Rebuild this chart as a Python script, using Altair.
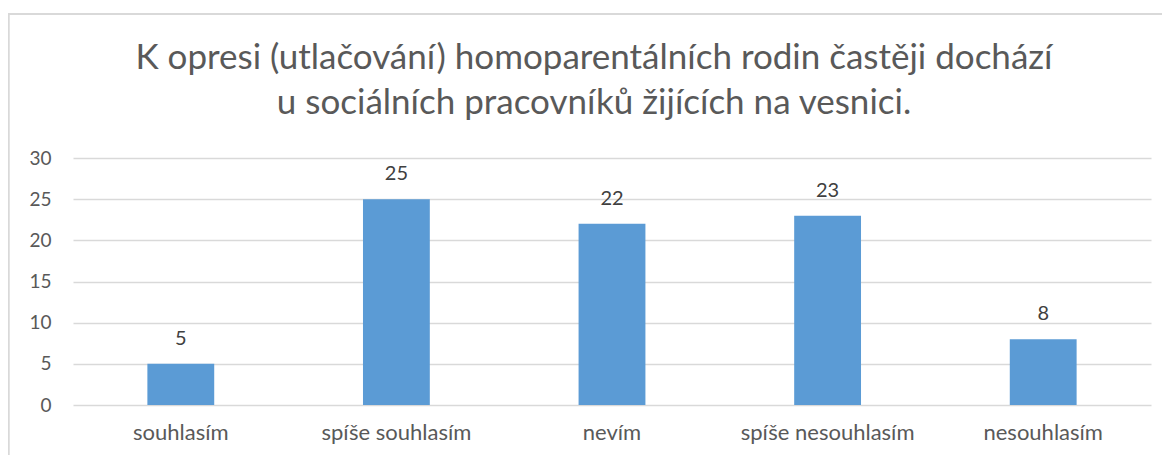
import altair as alt
import pandas as pd

categories = ["souhlasím", "spíše souhlasím", "nevím", "spíše nesouhlasím", "nesouhlasím"]
values = [5, 25, 22, 23, 8]
title_lines = ["K opresi (utlačování) homoparentálních rodin častěji dochází",
               "u sociálních pracovníků žijících na vesnici."]

df = pd.DataFrame({"kategorie": categories, "pocet": values})

FONT = "Lato"
GREY = "#595959"

x = alt.X("kategorie:N", sort=categories,
          scale=alt.Scale(paddingInner=0.69, paddingOuter=0.345),
          axis=alt.Axis(title=None, labelAngle=0, labelFontSize=22, labelColor=GREY,
                        labelFont=FONT, ticks=False, domain=False, labelPadding=17))
y = alt.Y("pocet:Q", scale=alt.Scale(domain=[0, 30]),
          axis=alt.Axis(title=None, values=[0, 5, 10, 15, 20, 25, 30], labelFontSize=19,
                        labelColor=GREY, labelFont=FONT, ticks=False, domain=False,
                        labelPadding=22, gridColor="#D9D9D9", gridWidth=1.5))

bars = alt.Chart(df).mark_bar(color="#5B9BD5").encode(x=x, y=y)
labels = alt.Chart(df).mark_text(dy=-19, baseline="alphabetic", fontSize=20, font=FONT,
                                 color="#404040").encode(
    x=alt.X("kategorie:N", sort=categories), y="pocet:Q", text="pocet:Q")

border = alt.Chart(df).mark_rect(fill=None, stroke="#D9D9D9", strokeWidth=1.5, clip=False).encode(
    x=alt.value(-64.5), x2=alt.value(1120), y=alt.value(-144), y2=alt.value(400))

chart = alt.layer(border, bars, labels).properties(
    width=1078, height=247,
    title=alt.TitleParams(title_lines, fontSize=35, font=FONT, color=GREY, fontWeight="normal",
                          anchor="middle", frame="group", dx=-18, offset=-108, lineHeight=45),
    autosize=alt.AutoSizeParams(type="none"),
    padding={"left": 65, "top": 150, "right": 11, "bottom": 50},
).configure_view(stroke=None)

chart.save("out.html", embed_options={"renderer": "svg", "actions": False})
